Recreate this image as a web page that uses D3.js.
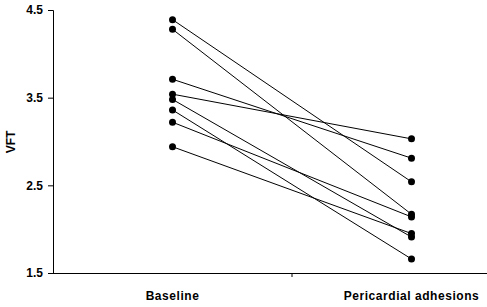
<!DOCTYPE html>
<html>
<head>
<meta charset="utf-8">
<script src="https://cdn.jsdelivr.net/npm/d3@7"></script>
<style>
  body { margin: 0; background: #fff; }
  text { font-family: "Liberation Sans", Arial, sans-serif; font-weight: bold; fill: #000; }
</style>
</head>
<body>
<div id="graph"></div>
<script>
var categories = ["Baseline", "Pericardial adhesions"];
var baseline   = [4.39, 4.28, 3.71, 3.54, 3.48, 3.36, 3.22, 2.94];
var adhesions  = [2.54, 2.17, 2.81, 3.03, 1.91, 1.66, 2.14, 1.95];
var y_ticks    = [1.5, 2.5, 3.5, 4.5];

var WIDTH = 487, HEIGHT = 307;

let chart = d3.select("#graph")
              .append("svg")
                .attr("width", WIDTH)
                .attr("height", HEIGHT);

// band scale runs past the right edge, like the original
let xscale = d3.scaleBand()
               .domain(categories)
               .range([53, 531]);

let yscale = d3.scaleLinear()
               .domain([1.5, 4.5])
               .range([273, 10]);

let x_axis = d3.axisBottom(xscale)
               .tickSize(0)
               .tickPadding(18);

let y_axis = d3.axisLeft(yscale)
               .tickValues(y_ticks)
               .tickFormat(d3.format(".1f"))
               .tickSizeOuter(0)
               .tickSize(5)
               .tickPadding(5);

let xg = chart.append("g")
              .attr("transform", "translate(0,273)")
              .call(x_axis);
xg.select(".domain").attr("d", "M53,0.5H" + WIDTH);
xg.selectAll("text")
  .attr("font-size", 12)
  .attr("letter-spacing", 0.55);

// divider tick between the two categories
let mid = xscale.range()[0] + xscale.bandwidth();
xg.append("line")
  .attr("x1", mid).attr("x2", mid)
  .attr("y1", 0).attr("y2", 4)
  .attr("stroke", "#000");

let yg = chart.append("g")
              .attr("transform", "translate(53,0)")
              .call(y_axis);
yg.selectAll("text").attr("font-size", 12);

chart.selectAll(".domain, .tick line").attr("stroke", "#000");

// y label
chart.append("text")
     .attr("transform", "translate(14.5,142) rotate(-90)")
     .attr("text-anchor", "middle")
     .attr("font-size", 12)
     .text("VFT");

let x0 = xscale(categories[0]) + xscale.bandwidth() / 2;
let x1 = xscale(categories[1]) + xscale.bandwidth() / 2;

// paired lines
chart.append("g")
     .selectAll("line")
     .data(baseline)
     .join("line")
       .attr("x1", x0)
       .attr("y1", d => yscale(d))
       .attr("x2", x1)
       .attr("y2", (d, i) => yscale(adhesions[i]))
       .attr("stroke", "#000")
       .attr("stroke-width", 1);

// points
[[baseline, x0], [adhesions, x1]].forEach(function(pair) {
  chart.append("g")
       .selectAll("circle")
       .data(pair[0])
       .join("circle")
         .attr("cx", pair[1])
         .attr("cy", d => yscale(d))
         .attr("r", 3.5)
         .attr("fill", "#000");
});
</script>
</body>
</html>
